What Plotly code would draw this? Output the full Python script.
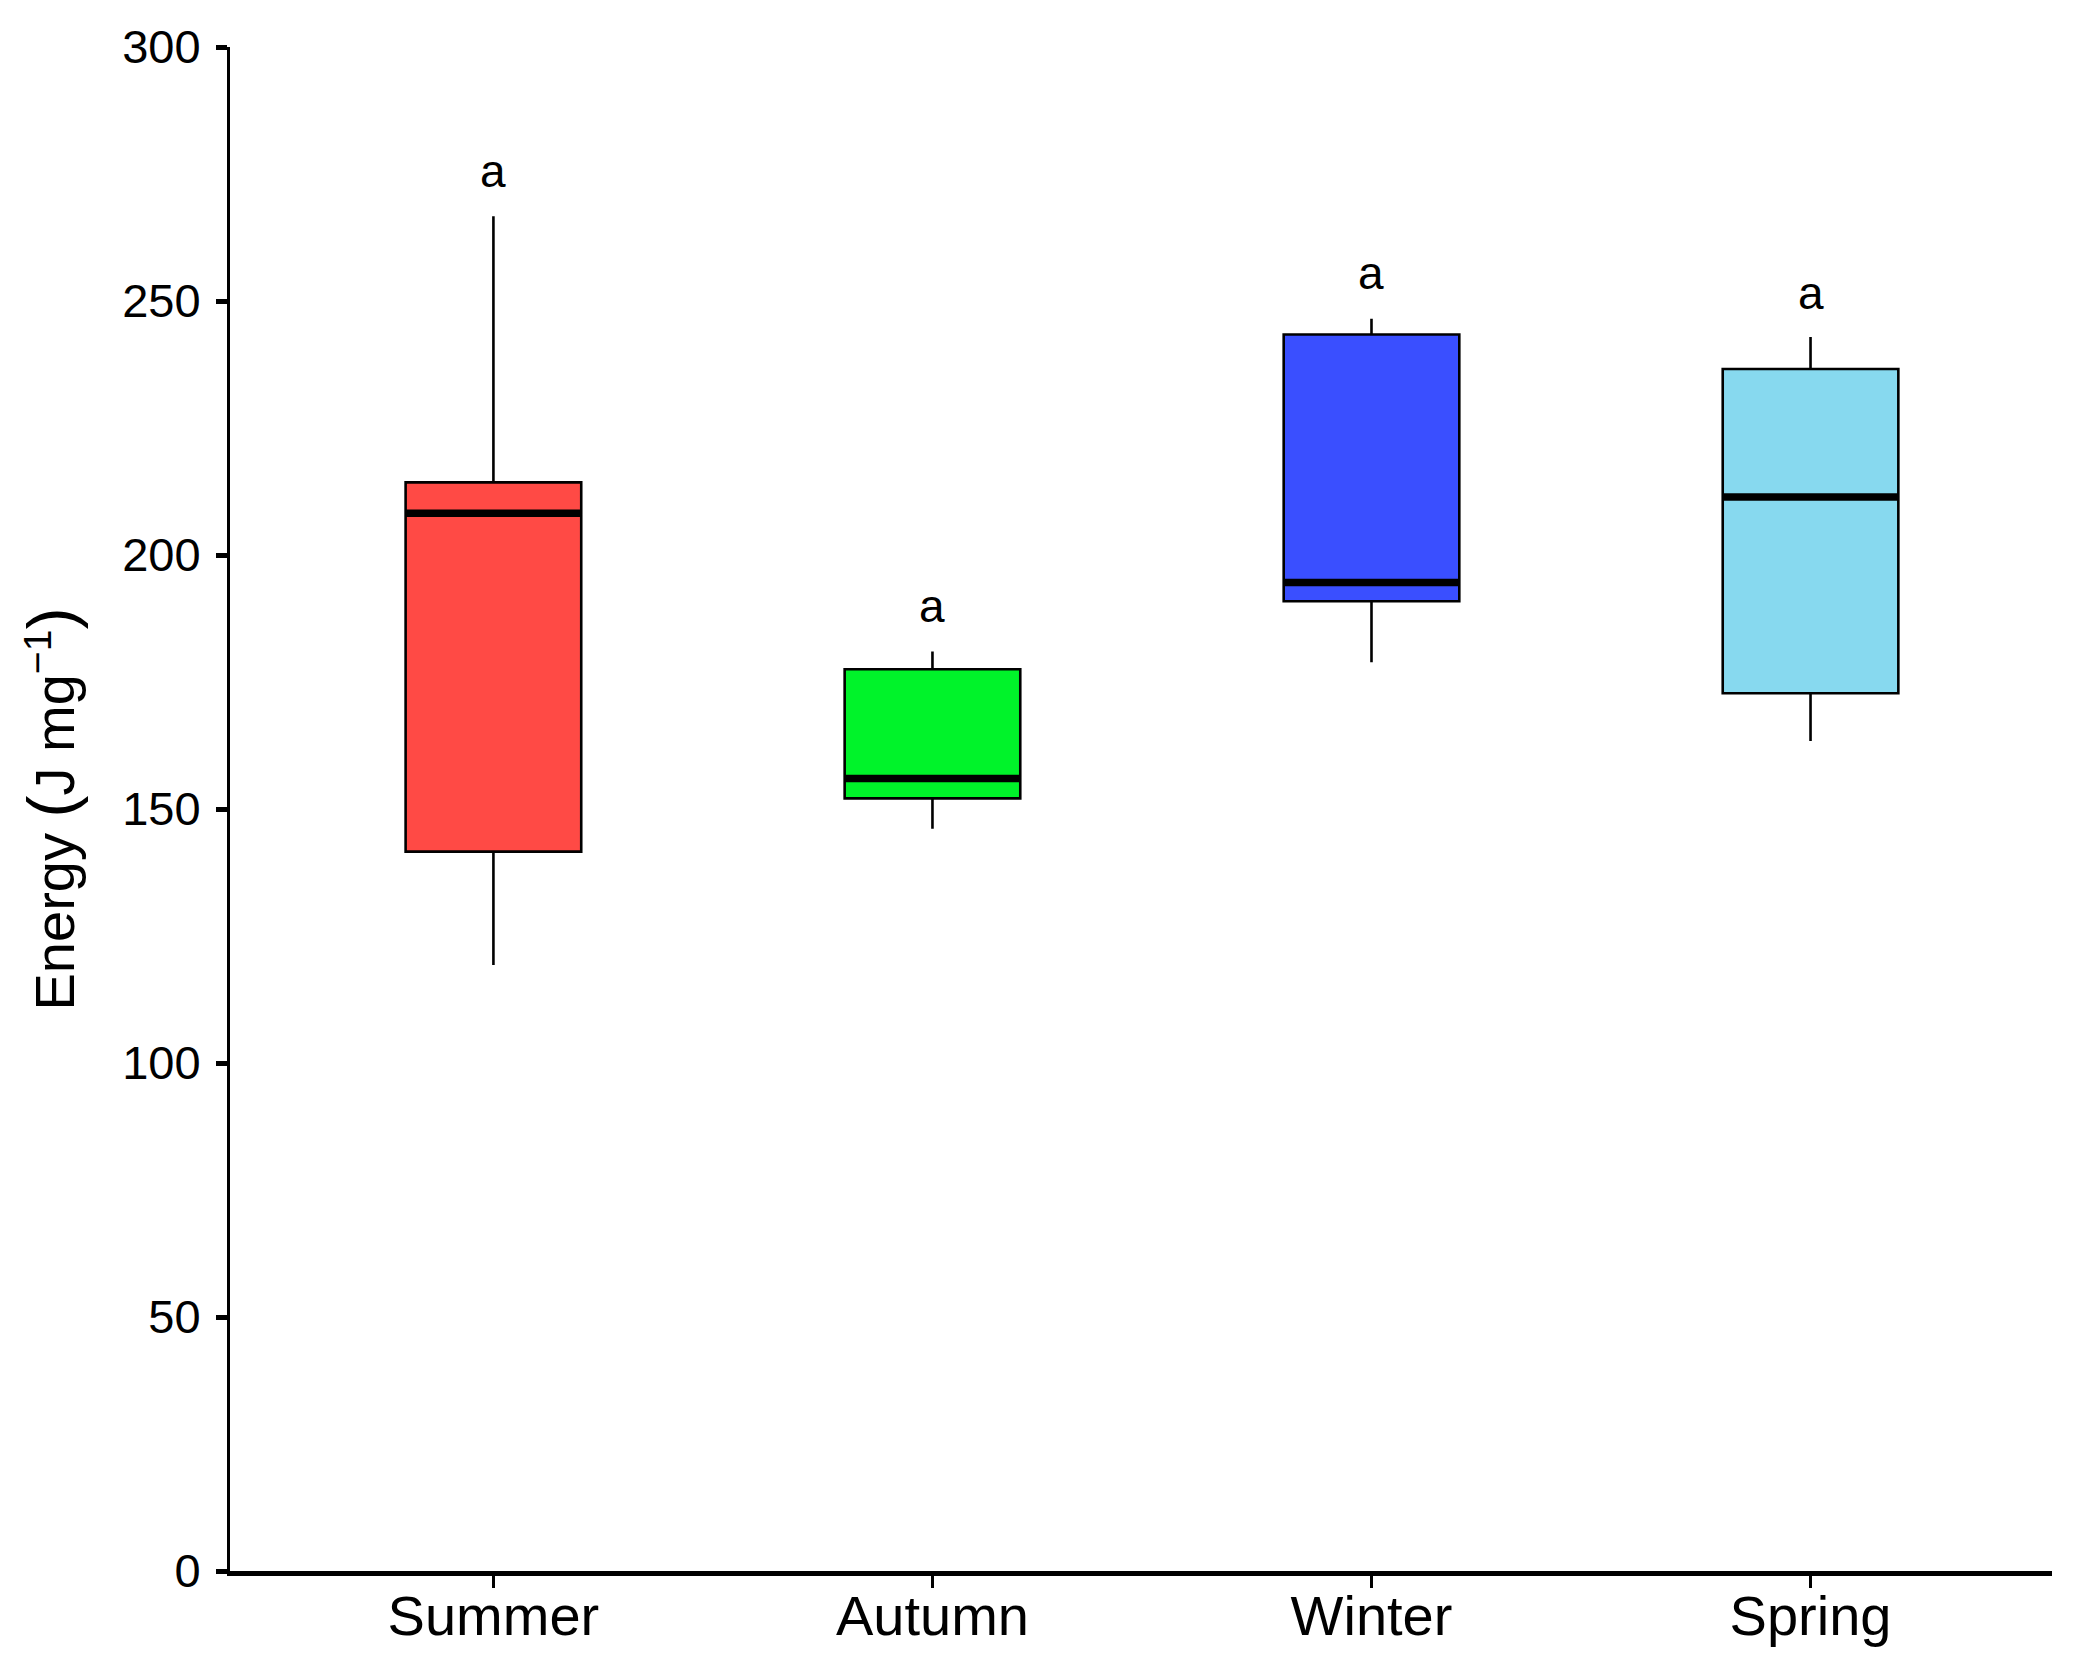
import plotly.graph_objects as go

# Seasonal energy content
seasons = ["Summer", "Autumn", "Winter", "Spring"]
lower = [119.3, 146.1, 178.9, 163.4]
q1 = [141.6, 152.1, 190.9, 172.8]
median = [208.2, 156.0, 194.6, 211.4]
q3 = [214.3, 177.5, 243.4, 236.6]
upper = [266.7, 181.0, 246.5, 242.9]
letters = ["a", "a", "a", "a"]
letter_y = [275.5, 190.0, 255.5, 251.5]
colors = ["#FF4A45", "#00F32A", "#3A4FFF", "#87D9EF"]

box_width = 0.4

fig = go.Figure()

for i, s in enumerate(seasons):
    fig.add_trace(go.Box(
        x=[s],
        q1=[q1[i]],
        median=[median[i]],
        q3=[q3[i]],
        lowerfence=[lower[i]],
        upperfence=[upper[i]],
        fillcolor=colors[i],
        line=dict(color="black", width=2.6),
        whiskerwidth=0,
        width=box_width,
        boxpoints=False,
        showlegend=False,
    ))

# thicker median bars drawn on top of the boxes
for i, s in enumerate(seasons):
    fig.add_shape(
        type="line", xref="x", yref="y",
        x0=i - box_width / 2, x1=i + box_width / 2,
        y0=median[i], y1=median[i],
        line=dict(color="black", width=7.5),
    )

# significance letters
for i, s in enumerate(seasons):
    fig.add_annotation(
        x=s, y=letter_y[i], text=letters[i], showarrow=False,
        font=dict(size=46, color="black"),
    )

fig.update_layout(
    width=2091,
    height=1677,
    margin=dict(l=222, r=47, t=33, b=114),
    plot_bgcolor="white",
    paper_bgcolor="white",
    font=dict(family="Liberation Sans, Arial, sans-serif", color="black"),
    xaxis=dict(
        type="category",
        categoryorder="array",
        categoryarray=seasons,
        range=[-0.6, 3.55],
        showline=True,
        linecolor="black",
        linewidth=5,
        ticks="outside",
        ticklen=12,
        tickwidth=3,
        tickcolor="black",
        tickfont=dict(size=56),
        ticklabelstandoff=-20,
        showgrid=False,
        zeroline=False,
    ),
    yaxis=dict(
        title=dict(
            text="Energy <span style='font-size:66px'>(</span>J mg<sup>−1</sup><span style='font-size:66px'>)</span>",
            font=dict(size=56), standoff=30,
        ),
        range=[0, 300],
        tickvals=[0, 50, 100, 150, 200, 250, 300],
        showline=True,
        linecolor="black",
        linewidth=3,
        ticks="outside",
        ticklen=11,
        tickwidth=5,
        tickcolor="black",
        tickfont=dict(size=47),
        ticklabelstandoff=6,
        showgrid=False,
        zeroline=False,
    ),
)

fig.write_html("out.html")
